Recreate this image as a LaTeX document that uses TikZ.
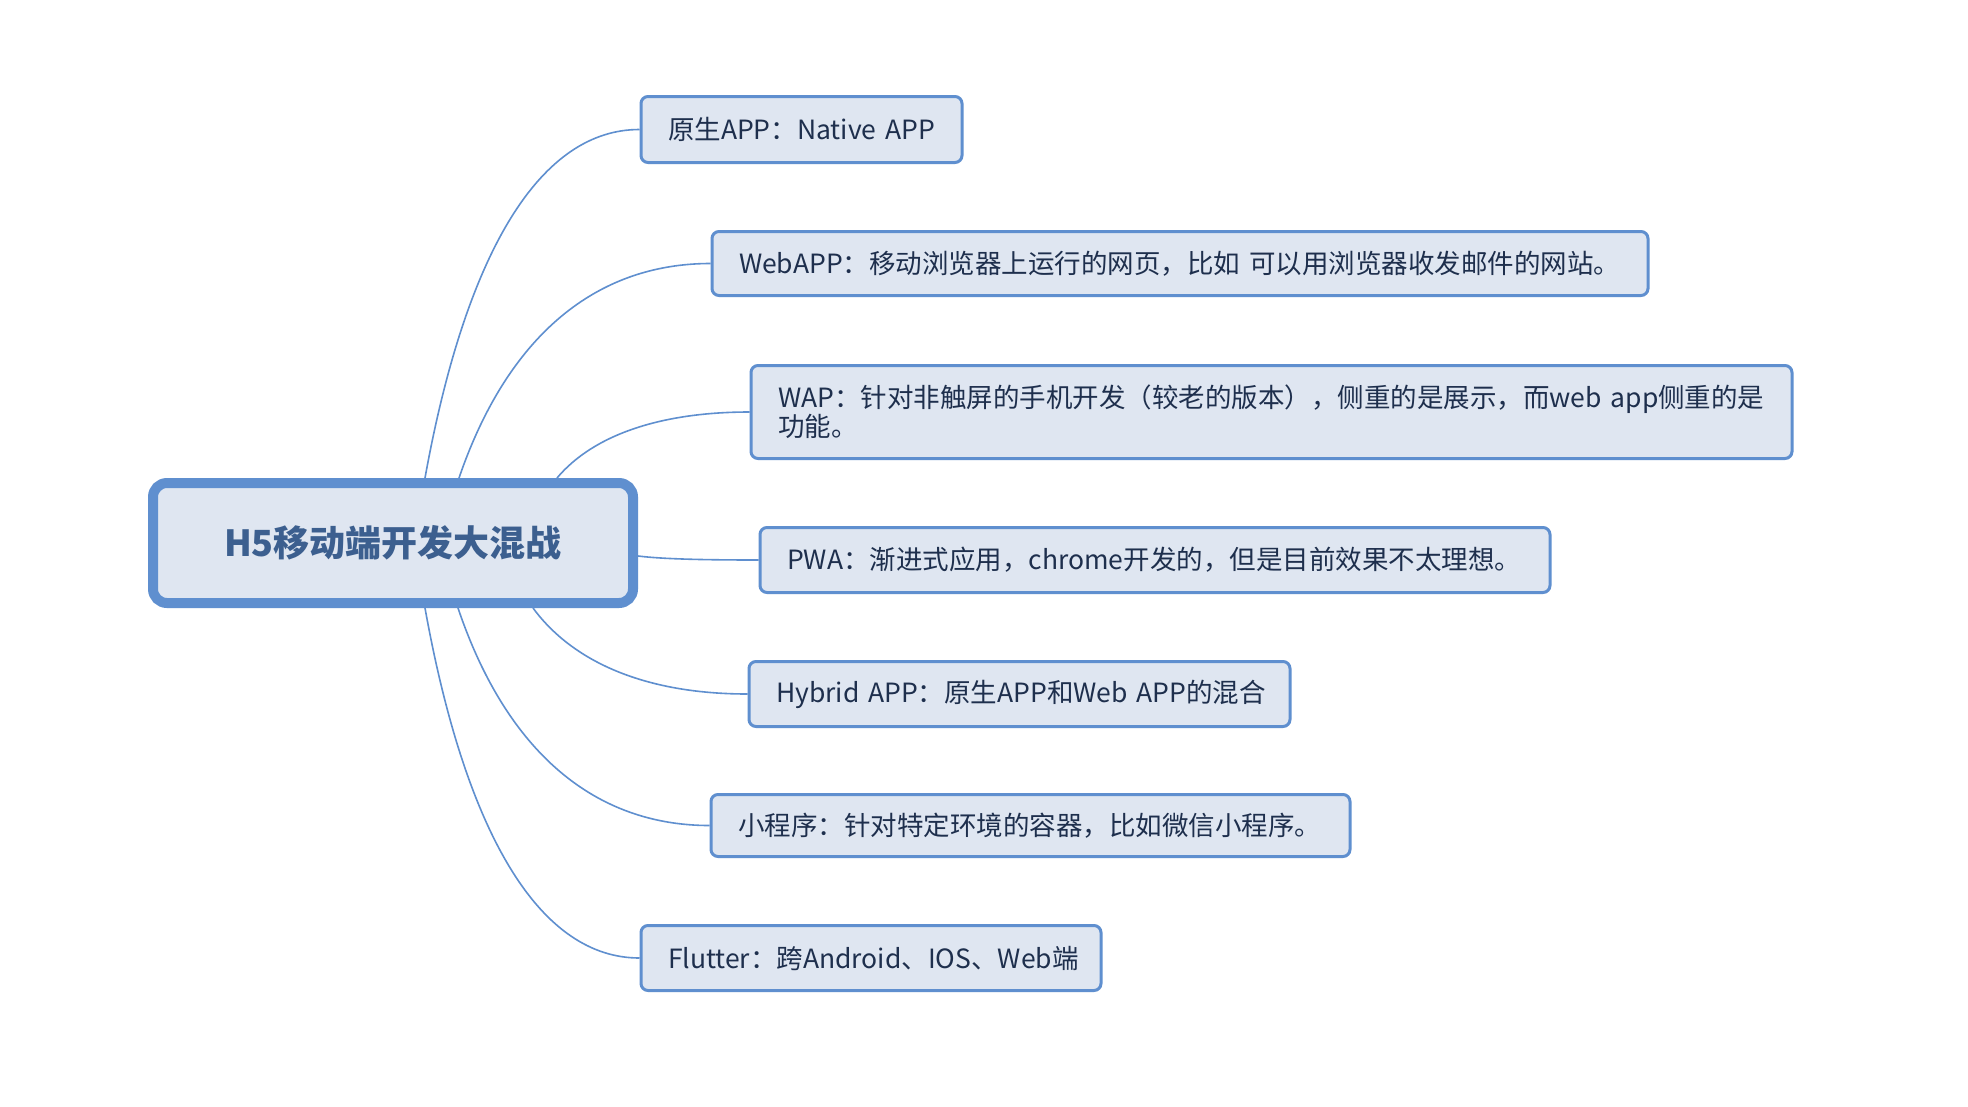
\documentclass[tikz,border=0pt]{standalone}
\usepackage{fontspec}
\setmainfont{Noto Sans CJK SC}
\usetikzlibrary{backgrounds}
\definecolor{bordc}{HTML}{5F8FCF}
\definecolor{fillc}{HTML}{DFE6F1}
\definecolor{txtc}{HTML}{1E2F4D}
\definecolor{roottxt}{HTML}{3C5F8F}
\tikzset{
  child/.style={draw=bordc, fill=fillc, line width=3pt, rounded corners=7pt,
    anchor=west, inner xsep=27pt, inner ysep=0pt, align=left, text=txtc,
    font=\fontsize{26.5}{29}\selectfont},
  rootbox/.style={draw=bordc, fill=fillc, line width=10pt, rounded corners=14pt,
    minimum width=480pt, minimum height=120pt, text=roottxt,
    font=\fontsize{36}{40}\selectfont\bfseries},
  conn/.style={draw=bordc, line width=1.6pt}
}
\begin{document}
\begin{tikzpicture}[x=1pt,y=-1pt]
\begin{pgfonlayer}{background}
\fill[white] (0,0) rectangle (1968,1106);
\end{pgfonlayer}
\useasboundingbox (0,0) rectangle (1968,1106);

\node[rootbox] (root) at (393,543) {H5移动端开发大混战};

\node[child, minimum width=321pt, minimum height=66pt, text width=267pt] (c1) at (639.5,129.5) {\mbox{原生APP：Native APP}};
\node[child, minimum width=936pt, minimum height=64pt, text width=882pt] (c2) at (710.5,263.5) {\mbox{WebAPP：移动浏览器上运行的网页，比如 可以用浏览器收发邮件的网站。}};
\node[child, minimum width=1041pt, minimum height=93pt, text width=987pt] (c3) at (749.5,412) {\mbox{WAP：针对非触屏的手机开发（较老的版本），侧重的是展示，而web app侧重的是}\\功能。};
\node[child, minimum width=790pt, minimum height=65pt, text width=736pt] (c4) at (758.5,560) {\mbox{PWA：渐进式应用，chrome开发的，但是目前效果不太理想。}};
\node[child, minimum width=541pt, minimum height=65pt, text width=487pt] (c5) at (747.5,694) {\mbox{Hybrid APP：原生APP和Web APP的混合}};
\node[child, minimum width=639pt, minimum height=62pt, text width=585pt] (c6) at (709.5,825.5) {\mbox{小程序：针对特定环境的容器，比如微信小程序。}};
\node[child, minimum width=460pt, minimum height=65pt, text width=406pt] (c7) at (639.5,958) {\mbox{Flutter：跨Android、IOS、Web端}};

\begin{pgfonlayer}{background}
\coordinate (s1) at ([xshift=277pt]root.north west);
\coordinate (s2) at ([xshift=311pt]root.north west);
\coordinate (s3) at ([xshift=409pt]root.north west);
\coordinate (s4) at ([yshift=-13pt]root.east);
\coordinate (s5) at ([xshift=385pt]root.south west);
\coordinate (s6) at ([xshift=310pt]root.south west);
\coordinate (s7) at ([xshift=277pt]root.south west);
\draw[conn] (s1) .. controls +(42,-232) and +(-97,0) .. (c1.west);
\draw[conn] (s2) .. controls +(49,-143) and +(-114,0) .. (c2.west);
\draw[conn] (s3) .. controls +(37,-44) and +(-87,0) .. (c3.west);
\draw[conn] (s4) .. controls +(24,3) and +(-56,0) .. (c4.west);
\draw[conn] (s5) .. controls +(42,57) and +(-97,0) .. (c5.west);
\draw[conn] (s6) .. controls +(49,145) and +(-114,0) .. (c6.west);
\draw[conn] (s7) .. controls +(42,233) and +(-97,0) .. (c7.west);
\end{pgfonlayer}
\end{tikzpicture}
\end{document}
